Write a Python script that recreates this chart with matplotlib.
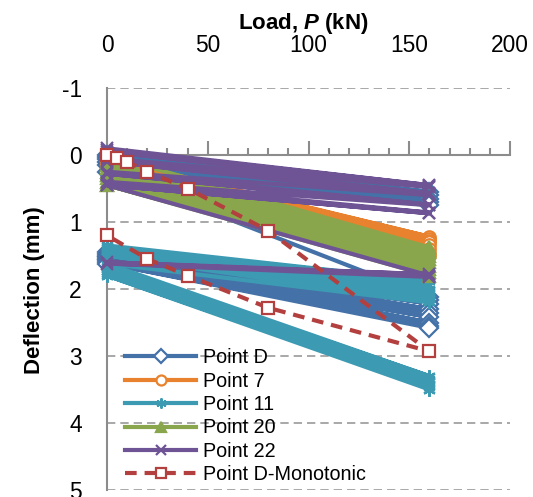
import matplotlib.pyplot as plt
from matplotlib.ticker import MultipleLocator

plt.rcParams['font.family'] = ['Liberation Sans', 'DejaVu Sans']
plt.rcParams['mathtext.fontset'] = 'custom'
plt.rcParams['mathtext.rm'] = 'Liberation Sans:bold'
plt.rcParams['mathtext.it'] = 'Liberation Sans:bold:italic'
plt.rcParams['axes.unicode_minus'] = False

# cyclic tests: load goes 0 -> 160 -> 0 ..., deflection read at each end
ptD = [0.00, 0.55, 0.03, 0.60, 0.06, 0.65, 0.10, 0.70, 0.15, 0.75,
       0.25, 2.12, 1.45, 2.16, 1.48, 2.22, 1.50, 2.30, 1.52, 2.36,
       1.55, 2.42, 1.57, 2.50, 1.60, 2.55, 1.62, 2.58]
pt7 = [0.05, 1.22, 0.07, 1.25, 0.08, 1.28, 0.10, 1.30, 0.12, 1.34,
       0.14, 1.40, 0.15, 1.46, 0.15, 1.50]
pt11 = [1.35, 1.88, 1.38, 1.94, 1.40, 2.00, 1.43, 2.05, 1.45, 2.10,
        1.48, 2.15, 1.50, 2.20, 1.62, 3.30, 1.66, 3.34, 1.70, 3.38,
        1.74, 3.42, 1.78, 3.46, 1.80, 3.50]
pt20 = [0.00, 1.38, 0.10, 1.42, 0.15, 1.45, 0.20, 1.50, 0.25, 1.55,
        0.30, 1.60, 0.35, 1.65, 0.40, 1.70, 0.45, 1.75, 0.45, 1.80]
pt22 = [-0.10, 0.45, -0.08, 0.46, -0.05, 0.48, 0.05, 0.57, 0.08, 0.58,
        0.10, 0.60, 0.25, 0.74, 0.28, 0.75, 0.40, 0.86, 0.45, 0.87,
        0.45, 1.80, 1.60, 1.78, 1.62, 1.82]

# monotonic test (loading then unloading)
mono_load = [0, 5, 10, 20, 40, 80, 160, 80, 40, 20, 0]
mono = [0.00, 0.05, 0.10, 0.25, 0.50, 1.13, 2.93, 2.28, 1.80, 1.55, 1.20]

xticks = [0, 50, 100, 150, 200]
yticks = [-1, 0, 1, 2, 3, 4, 5]

series = [
    ('Point D', ptD, '#4472A8', 'D', 'white'),
    ('Point 7', pt7, '#E8822E', 'o', 'white'),
    ('Point 11', pt11, '#3D9AB3', (6, 2, 0), 'white'),
    ('Point 20', pt20, '#89A64C', '^', '#89A64C'),
    ('Point 22', pt22, '#6E5494', 'x', 'white'),
]

fig = plt.figure(figsize=(5.33, 4.97), dpi=100)
ax = fig.add_axes([107/533, 7/497, 403/533, 402/497])

for name, vals, col, mk, fc in series:
    loads = [0, 160] * (len(vals) // 2)
    ax.plot(loads, vals, color=col, lw=3.0, marker=mk, ms=9, mfc=fc, mec=col,
            mew=1.6, label=name, clip_on=False, solid_joinstyle='round')

ax.plot(mono_load, mono, color='#B3403F', lw=3.0, ls=(0, (2.8, 1.9)), marker='s',
        ms=9, mfc='white', mec='#B3403F', mew=1.6, label='Point D-Monotonic',
        clip_on=False)

ax.set_xlim(0, 200)
ax.set_ylim(5, -1)

gray = '#8c8c8c'
ax.spines['top'].set_visible(False)
ax.spines['right'].set_visible(False)
ax.spines['left'].set_color(gray)
ax.spines['left'].set_linewidth(1.5)
ax.spines['bottom'].set_position(('data', 0))
ax.spines['bottom'].set_color(gray)
ax.spines['bottom'].set_linewidth(1.5)
for s in ax.spines.values():
    s.set_zorder(1)

ax.set_yticks(yticks)
ax.tick_params(axis='y', length=0, pad=18, labelsize=16.4)
ax.yaxis.grid(True, color='#999999', lw=1.2, linestyle=(0, (5, 3)))
ax.set_axisbelow(True)

ax.set_xticks(xticks)
ax.xaxis.set_minor_locator(MultipleLocator(10))
ax.tick_params(axis='x', which='both', direction='in', labelbottom=False,
               color=gray, width=1.5)
ax.tick_params(axis='x', which='major', length=10)
ax.tick_params(axis='x', which='minor', length=5)

sec = ax.secondary_xaxis('top')
sec.set_xticks(xticks)
sec.tick_params(length=0, pad=22, labelsize=16.4)
sec.spines['top'].set_visible(False)

fig.text(303/533, 1 - 23/497, r'Load, $\mathit{P}$ (kN)', ha='center', va='center',
         fontsize=16, fontweight='bold')
fig.text(35/533, 1 - 290/497, 'Deflection (mm)', rotation=90, ha='center',
         va='center', fontsize=16, fontweight='bold')

ax.legend(loc='lower left', bbox_to_anchor=(0.03, 0.0), frameon=False,
          fontsize=14.2, handlelength=3.6, handletextpad=0.35, labelspacing=0.22,
          borderaxespad=0, borderpad=0.3, markerscale=0.8)

fig.savefig('out.png', dpi=100)
